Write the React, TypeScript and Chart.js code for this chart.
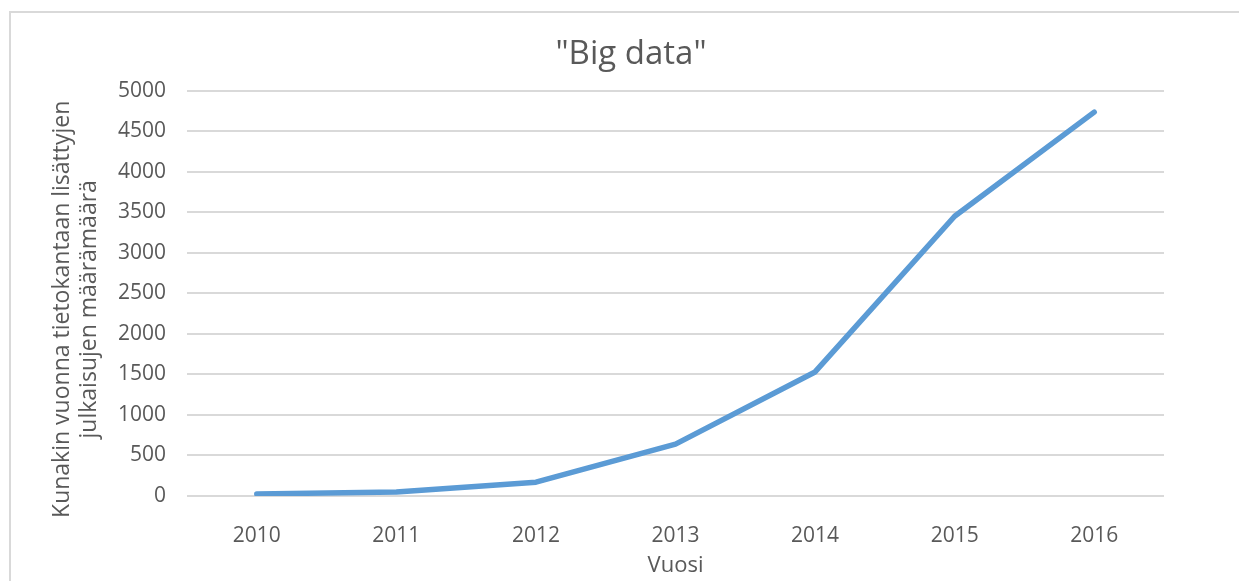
import React, { useEffect, useRef } from 'react';
import { Chart, registerables } from 'chart.js';

Chart.register(...registerables);

const years = ['2010', '2011', '2012', '2013', '2014', '2015', '2016'];
const publications = [25, 50, 170, 640, 1530, 3450, 4735];
const titleText = '"Big data"';
const yTitleLines = ['Kunakin vuonna tietokantaan lisättyjen', 'julkaisujen määrämäärä'];
const xTitleText = 'Vuosi';
const yMin = 0;
const yMax = 5000;
const yStep = 500;

const FONT = "'Open Sans', sans-serif";
const TEXT = '#595959';
const GRID = '#d9d9d9';
const LINE = '#5B9BD5';

const yTitlePlugin = {
  id: 'yTitleCustom',
  afterDraw(chart: any) {
    const { ctx, chartArea } = chart;
    ctx.save();
    ctx.fillStyle = TEXT;
    ctx.font = `23px ${FONT}`;
    ctx.textAlign = 'center';
    ctx.textBaseline = 'middle';
    const cy = (chartArea.top + chartArea.bottom) / 2 + 16;
    ctx.translate(62, cy);
    ctx.rotate(-Math.PI / 2);
    yTitleLines.forEach((line, i) => ctx.fillText(line, 0, i * 27));
    ctx.restore();
  },
};

export default function App() {
  const ref = useRef<HTMLCanvasElement | null>(null);

  useEffect(() => {
    if (!ref.current) return;
    const chart = new Chart(ref.current, {
      type: 'line',
      data: {
        labels: years,
        datasets: [
          {
            data: publications,
            borderColor: LINE,
            backgroundColor: LINE,
            borderWidth: 5.5,
            borderCapStyle: 'round',
            borderJoinStyle: 'round',
            pointRadius: 0,
            pointHoverRadius: 0,
            tension: 0,
            fill: false,
          },
        ],
      },
      options: {
        responsive: false,
        animation: false,
        layout: { padding: { left: 98, right: 75, top: 15, bottom: 0 } },
        plugins: {
          legend: { display: false },
          tooltip: { enabled: false },
          title: {
            display: true,
            text: titleText,
            color: TEXT,
            font: { family: FONT, size: 33, weight: 'normal', lineHeight: 1.2 },
            padding: { top: 20, bottom: 16 },
          },
        },
        scales: {
          x: {
            type: 'category',
            offset: true,
            grid: { display: false },
            border: { display: false },
            ticks: {
              color: TEXT,
              font: { family: FONT, size: 21, lineHeight: 1.2 },
              padding: 19,
              maxRotation: 0,
              autoSkip: false,
            },
            title: {
              display: true,
              text: xTitleText,
              color: TEXT,
              font: { family: FONT, size: 22, lineHeight: 1.2 },
              padding: { top: 0, bottom: 2 },
            },
            afterFit(scale: any) {
              scale.height = 85;
            },
          },
          y: {
            min: yMin,
            max: yMax,
            ticks: {
              stepSize: yStep,
              color: TEXT,
              font: { family: FONT, size: 21, lineHeight: 1.2 },
              padding: 21,
              callback: (value: any) => String(value),
            },
            grid: { color: GRID, lineWidth: 2, drawTicks: false },
            border: { display: false },
            afterFit(scale: any) {
              scale.width = 89;
            },
          },
        },
      },
      plugins: [yTitlePlugin],
    } as any);
    return () => chart.destroy();
  }, []);

  return (
    <div
      style={{
        position: 'fixed',
        left: 0,
        top: 0,
        width: 1239,
        height: 581,
        overflow: 'hidden',
        background: '#ffffff',
      }}
    >
      <div
        style={{
          position: 'absolute',
          left: 9,
          top: 11,
          width: 1400,
          height: 700,
          borderTop: '2px solid #d9d9d9',
          borderLeft: '2px solid #d9d9d9',
        }}
      />
      <canvas
        ref={ref}
        width={1239}
        height={581}
        style={{ position: 'absolute', left: 0, top: 0, width: 1239, height: 581 }}
      />
    </div>
  );
}
